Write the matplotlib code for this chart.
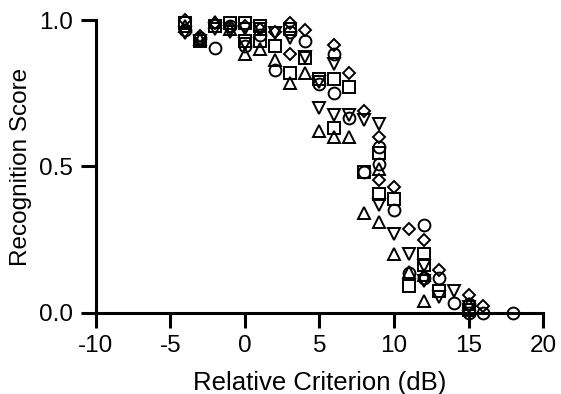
import numpy as np
import matplotlib.pyplot as plt

plt.rcParams['font.family'] = ['Liberation Sans', 'DejaVu Sans']
plt.rcParams['axes.unicode_minus'] = False

# values (relative criterion in dB, recognition score)
circle_x = [-4, -3, -2, -1, 0, 1, 2, 3, 4, 5, 6, 6, 7, 8, 9, 9, 10, 11, 12, 12, 13, 14, 15, 15, 16, 18]
circle_y = [0.965, 0.94, 0.905, 0.98, 0.91, 0.95, 0.83, 0.96, 0.93, 0.78, 0.885, 0.75, 0.665, 0.48,
            0.565, 0.51, 0.35, 0.135, 0.30, 0.12, 0.12, 0.035, 0.03, 0.0, 0.0, 0.0]

square_x = [-4, -3, -2, -1, 0, 0, 1, 1, 2, 3, 3, 4, 5, 6, 6, 7, 8, 9, 9, 10, 11, 12, 12, 13, 15]
square_y = [0.99, 0.93, 0.98, 0.99, 0.99, 0.93, 0.98, 0.93, 0.91, 0.97, 0.82, 0.87, 0.80, 0.80, 0.63,
            0.77, 0.48, 0.545, 0.405, 0.39, 0.09, 0.20, 0.165, 0.075, 0.01]

up_x = [-4, -3, -2, -1, 0, 1, 2, 3, 4, 5, 6, 7, 8, 9, 9, 10, 11, 12, 12, 15]
up_y = [0.98, 0.935, 0.995, 0.97, 0.885, 0.90, 0.865, 0.785, 0.82, 0.62, 0.60, 0.60, 0.34, 0.49,
        0.31, 0.20, 0.14, 0.13, 0.04, 0.03]

down_x = [-4, -3, -2, -1, 0, 0, 1, 2, 3, 4, 5, 5, 6, 6, 7, 8, 9, 9, 10, 11, 12, 12, 13, 14, 15]
down_y = [0.955, 0.93, 0.97, 0.96, 0.97, 0.92, 0.97, 0.955, 0.94, 0.875, 0.79, 0.70, 0.85, 0.675,
          0.675, 0.66, 0.645, 0.37, 0.27, 0.20, 0.16, 0.11, 0.055, 0.075, 0.02]

diamond_x = [-4, -3, -2, -1, 0, 1, 2, 3, 3, 4, 6, 7, 8, 9, 9, 10, 11, 12, 13, 15, 16]
diamond_y = [1.0, 0.945, 0.99, 0.975, 0.98, 0.97, 0.96, 0.99, 0.885, 0.965, 0.915, 0.82, 0.69,
             0.60, 0.455, 0.43, 0.285, 0.25, 0.145, 0.06, 0.025]

fig = plt.figure(figsize=(5.61, 3.94), dpi=100)
ax = fig.add_axes([0.171, 0.206, 0.797, 0.743])

style = dict(linestyle='none', mfc='none', mec='black', mew=1.4, clip_on=False)
ax.plot(circle_x, circle_y, marker='o', ms=8.5, **style)
ax.plot(square_x, square_y, marker='s', ms=8, **style)
ax.plot(up_x, up_y, marker='^', ms=9, **style)
ax.plot(down_x, down_y, marker='v', ms=9, **style)
ax.plot(diamond_x, diamond_y, marker='D', ms=6.5, **style)

ax.set_xlim(-10, 20)
ax.set_ylim(0, 1)
ax.set_xticks(np.arange(-10, 21, 5))
ax.set_yticks([0.0, 0.5, 1.0])
ax.set_yticklabels(['0.0', '0.5', '1.0'])

for s in ['top', 'right']:
    ax.spines[s].set_visible(False)
for s in ['left', 'bottom']:
    ax.spines[s].set_linewidth(2.2)
ax.tick_params(direction='out', length=10.8, width=2.2, labelsize=17.5, pad=5.5)

ax.set_xlabel('Relative Criterion (dB)', fontsize=18.5, labelpad=10)
ax.set_ylabel('Recognition Score', fontsize=17.5, labelpad=5)

fig.savefig('out.png', dpi=100)
